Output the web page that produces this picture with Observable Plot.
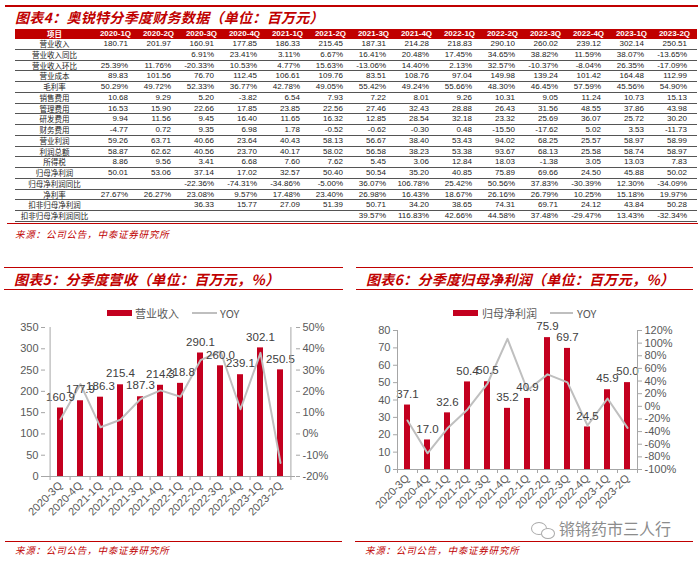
<!DOCTYPE html>
<html><head><meta charset="utf-8">
<script src="https://cdn.jsdelivr.net/npm/d3@7"></script>
<script src="https://cdn.jsdelivr.net/npm/@observablehq/plot@0.6"></script>
<style>
body{margin:0;background:#fff;}
#page{position:relative;width:700px;height:561px;overflow:hidden;font-family:"Noto Sans CJK SC",sans-serif;}
.redline{position:absolute;height:0;border-top:1.5px solid #c00000;}
.title{position:absolute;color:#c00000;font-weight:bold;font-style:italic;font-size:14px;white-space:nowrap;line-height:14px;letter-spacing:0.3px;}
.src{position:absolute;color:#c00000;font-size:9.5px;font-style:italic;white-space:nowrap;line-height:10px;letter-spacing:0.8px;}
.cell{position:absolute;white-space:nowrap;font-size:8px;line-height:10px;}
.num{font-family:"Liberation Sans Narrow","Liberation Sans",Arial,sans-serif;text-align:right;color:#222;}
.lab{font-family:"Noto Sans CJK SC",sans-serif;text-align:center;color:#222;font-size:7.5px;}
.hdr{color:#fff;font-weight:bold;text-align:center;font-family:"Liberation Sans",Arial,sans-serif;}
.rowline{position:absolute;left:15px;width:682px;height:0;border-top:1px solid #555;}
.leg{position:absolute;font-size:11px;color:#595959;line-height:12px;white-space:nowrap;font-family:"Noto Sans CJK SC",sans-serif;}
.chart{position:absolute;}
</style></head>
<body><div id="page"></div>
<script>
// ---------- table data ----------
const columns = ["2020-1Q","2020-2Q","2020-3Q","2020-4Q","2021-1Q","2021-2Q","2021-3Q","2021-4Q","2022-1Q","2022-2Q","2022-3Q","2022-4Q","2023-1Q","2023-2Q"];
const revenueQ = [180.71,201.97,160.91,177.85,186.33,215.45,187.31,214.28,218.83,290.10,260.02,239.12,302.14,250.51];
const revenueYoyQ = [null,null,6.91,23.41,3.11,6.67,16.41,20.48,17.45,34.65,38.82,11.59,38.07,-13.65];
const revenueQoqQ = [25.39,11.76,-20.33,10.53,4.77,15.63,-13.06,14.40,2.13,32.57,-10.37,-8.04,26.35,-17.09];
const costQ = [89.83,101.56,76.70,112.45,106.61,109.76,83.51,108.76,97.04,149.98,139.24,101.42,164.48,112.99];
const grossMarginQ = [50.29,49.72,52.33,36.77,42.78,49.05,55.42,49.24,55.66,48.30,46.45,57.59,45.56,54.90];
const sellingQ = [10.68,9.29,5.20,-3.82,6.54,7.93,7.22,8.01,9.26,10.31,9.05,11.24,10.73,15.13];
const adminQ = [16.53,15.90,22.66,17.85,23.85,22.56,27.46,32.43,28.88,26.43,31.56,48.55,37.86,43.98];
const rdQ = [9.94,11.56,9.45,16.40,11.65,16.32,12.85,28.54,32.18,23.32,25.69,36.07,25.72,30.20];
const financeQ = [-4.77,0.72,9.35,6.98,1.78,-0.52,-0.62,-0.30,0.48,-15.50,-17.62,5.02,3.53,-11.73];
const opProfitQ = [59.26,63.71,40.66,23.64,40.43,58.13,56.67,38.40,53.43,94.02,68.25,25.57,58.97,58.99];
const totalProfitQ = [58.87,62.62,40.56,23.70,40.17,58.02,56.58,38.23,53.38,93.67,68.13,25.58,58.74,58.97];
const taxQ = [8.86,9.56,3.41,6.68,7.60,7.62,5.45,3.06,12.84,18.03,-1.38,3.05,13.03,7.83];
const netProfitQ = [50.01,53.06,37.14,17.02,32.57,50.40,50.54,35.20,40.85,75.89,69.66,24.50,45.88,50.02];
const netProfitYoyQ = [null,null,-22.36,-74.31,-34.86,-5.00,36.07,106.78,25.42,50.56,37.83,-30.39,12.30,-34.09];
const netMarginQ = [27.67,26.27,23.08,9.57,17.48,23.40,26.98,16.43,18.67,26.16,26.79,10.25,15.18,19.97];
const deductedQ = [null,null,36.33,15.77,27.09,51.39,50.71,34.20,38.65,74.31,69.71,24.12,43.84,50.28];
const deductedYoyQ = [null,null,null,null,null,null,39.57,116.83,42.66,44.58,37.48,-29.47,13.43,-32.34];

const tableRows = [
  ["营业收入", revenueQ, false], ["营业收入同比", revenueYoyQ, true], ["营业收入环比", revenueQoqQ, true],
  ["营业成本", costQ, false], ["毛利率", grossMarginQ, true], ["销售费用", sellingQ, false],
  ["管理费用", adminQ, false], ["研发费用", rdQ, false], ["财务费用", financeQ, false],
  ["营业利润", opProfitQ, false], ["利润总额", totalProfitQ, false], ["所得税", taxQ, false],
  ["归母净利润", netProfitQ, false], ["归母净利润同比", netProfitYoyQ, true], ["净利率", netMarginQ, true],
  ["扣非归母净利润", deductedQ, false], ["扣非归母净利润同比", deductedYoyQ, true]
];

// ---------- chart data ----------
const chartQuarters = ["2020-3Q","2020-4Q","2021-1Q","2021-2Q","2021-3Q","2021-4Q","2022-1Q","2022-2Q","2022-3Q","2022-4Q","2023-1Q","2023-2Q"];
const revenue = [160.9,177.9,186.3,215.4,187.3,214.3,218.8,290.1,260.0,239.1,302.1,250.5];
const revenueYoy = [6.91,23.41,3.11,6.67,16.41,20.48,17.45,34.65,38.82,11.59,38.07,-13.65];
const netProfit = [37.1,17.0,32.6,50.4,50.5,35.2,40.9,75.9,69.7,24.5,45.9,50.0];
const netProfitYoy = [-22.36,-74.31,-34.86,-5.00,36.07,106.78,25.42,50.56,37.83,-30.39,12.30,-34.09];

const RED = "#c00000";
const BAR = "#c3001f";
const page = document.getElementById("page");
function add(html){ page.insertAdjacentHTML("beforeend", html); }

// ---------- section 4: table ----------
add(`<div class="redline" style="left:5px;top:5px;width:693px;border-top-width:2px"></div>`);
add(`<div class="title" style="left:15px;top:10px">图表4：奥锐特分季度财务数据（单位：百万元）</div>`);
const labW = 79, colW = 43, tLeft = 15, hdrTop = 29, rowH = 10.75, rowTop = 39;
add(`<div style="position:absolute;left:${tLeft}px;top:${hdrTop}px;width:682px;height:10px;background:${RED}"></div>`);
add(`<div class="cell hdr" style="left:${tLeft}px;top:${hdrTop}px;width:${labW}px;font-family:'Noto Sans CJK SC';font-size:7.5px">项目</div>`);
columns.forEach((c,j)=>add(`<div class="cell hdr" style="left:${tLeft+labW+j*colW}px;top:${hdrTop}px;width:${colW}px">${c}</div>`));
tableRows.forEach(([label, vals, pct], i)=>{
  const top = rowTop + i*rowH;
  add(`<div class="cell lab" style="left:${tLeft}px;top:${top}px;width:${labW}px">${label}</div>`);
  vals.forEach((v,j)=>{
    if (v === null) return;
    const s = pct ? v.toFixed(2)+"%" : v.toFixed(2);
    add(`<div class="cell num" style="left:${tLeft+labW+j*colW}px;top:${top}px;width:${colW-9}px">${s}</div>`);
  });
  add(`<div class="rowline" style="top:${top+rowH-1}px"></div>`);
});
add(`<div class="redline" style="left:7px;top:223px;width:691px;border-top-width:1px"></div>`);
add(`<div class="src" style="left:15px;top:229px">来源：公司公告，中泰证券研究所</div>`);

// ---------- charts ----------
function dualChart({quarters, values, yoys, yMax, yStep, rMin, rMax, rStep, width, height, mt, mb, ml, mr, tickLen}) {
  const n = quarters.length;
  const step = (width - ml - mr) / n;
  const toLeft = t => (t - rMin) / (rMax - rMin) * yMax;
  const fromLeft = v => Math.round(v / yMax * (rMax - rMin) + rMin);
  const data = quarters.map((q,i)=>({q, v: values[i], yoy: yoys[i]}));
  const grey = "#a6a6a6";
  return Plot.plot({
    width, height, marginTop: mt, marginBottom: mb, marginLeft: ml, marginRight: mr,
    style: {fontFamily: "'Liberation Sans', Arial, sans-serif", fontSize: "11px", color: "#595959", background: "transparent", overflow: "visible"},
    x: {domain: quarters, paddingInner: 0.68, paddingOuter: 0.34, axis: null, label: null},
    y: {domain: [0, yMax], axis: null, label: null},
    marks: [
      Plot.barY(data, {x: "q", y: "v", fill: BAR}),
      Plot.line(data, {x: "q", y: d => toLeft(d.yoy), stroke: "#bfbfbf", strokeWidth: 2}),
      Plot.text(data, {x: "q", y: "v", text: d => d.v.toFixed(1), dy: -11, fill: "#404040", fontSize: 11.5}),
      Plot.ruleY([0], {stroke: grey}),
      Plot.ruleX([quarters[0]], {y1: 0, y2: yMax, dx: -step/2, stroke: grey}),
      Plot.ruleX([quarters[n-1]], {y1: 0, y2: yMax, dx: step/2, stroke: grey}),
      Plot.ruleX(quarters, {y1: 0, y2: -tickLen, dx: -step/2, stroke: grey}),
      Plot.ruleX([quarters[n-1]], {y1: 0, y2: -tickLen, dx: step/2, stroke: grey}),
      Plot.axisY({anchor: "left", ticks: d3.range(0, yMax + 0.001, yStep), tickSize: 4, tickPadding: 3, stroke: grey, fill: "#595959", label: null}),
      Plot.axisY({anchor: "right", ticks: d3.range(rMin, rMax + 0.001, rStep).map(toLeft), tickFormat: v => fromLeft(v) + "%", tickSize: 4, tickPadding: 3, stroke: grey, fill: "#595959", label: null}),
      Plot.axisX({anchor: "bottom", tickRotate: -45, tickSize: 0, tickPadding: 7, fill: "#595959", label: null})
    ]
  });
}

// chart 5
add(`<div class="redline" style="left:4px;top:267px;width:339px"></div>`);
add(`<div class="title" style="left:14px;top:272px">图表5：分季度营收（单位：百万元，%）</div>`);
add(`<div class="redline" style="left:4px;top:289px;width:339px;border-top-width:1px"></div>`);
add(`<div style="position:absolute;left:107px;top:310px;width:25px;height:6px;background:${BAR}"></div>`);
add(`<div class="leg" style="left:135px;top:307px">营业收入</div>`);
add(`<div style="position:absolute;left:192px;top:312px;width:25px;height:2px;background:#bfbfbf"></div>`);
add(`<div class="leg" style="left:220px;top:307px">YOY</div>`);
const c5 = dualChart({quarters: chartQuarters, values: revenue, yoys: revenueYoy, yMax: 350, yStep: 50, rMin: -20, rMax: 50, rStep: 10,
  width: 345, height: 240, mt: 27, mb: 64, ml: 45, mr: 50, tickLen: 9.4});
c5.classList.add("chart"); c5.style.left = "0px"; c5.style.top = "300px";
page.appendChild(c5);
add(`<div class="redline" style="left:5px;top:541px;width:337px;border-top-width:1px"></div>`);
add(`<div class="src" style="left:15px;top:545px">来源：公司公告，中泰证券研究所</div>`);

// chart 6
add(`<div class="redline" style="left:356px;top:267px;width:337px"></div>`);
add(`<div class="title" style="left:366px;top:272px">图表6：分季度归母净利润（单位：百万元，%）</div>`);
add(`<div class="redline" style="left:356px;top:289px;width:337px;border-top-width:1px"></div>`);
add(`<div style="position:absolute;left:453px;top:310px;width:25px;height:6px;background:${BAR}"></div>`);
add(`<div class="leg" style="left:482px;top:307px">归母净利润</div>`);
add(`<div style="position:absolute;left:550px;top:312px;width:23px;height:2px;background:#bfbfbf"></div>`);
add(`<div class="leg" style="left:577px;top:307px">YOY</div>`);
const c6 = dualChart({quarters: chartQuarters, values: netProfit, yoys: netProfitYoy, yMax: 80, yStep: 10, rMin: -100, rMax: 120, rStep: 20,
  width: 350, height: 240, mt: 30, mb: 71, ml: 47, mr: 63, tickLen: 2.3});
c6.classList.add("chart"); c6.style.left = "350px"; c6.style.top = "300px";
page.appendChild(c6);
add(`<div style="position:absolute;left:531px;top:522px;width:14px;height:11px;border:1.5px solid #aaa;border-radius:50%"></div>`);
add(`<div style="position:absolute;left:541px;top:528px;width:12px;height:9px;border:1.5px solid #aaa;border-radius:50%;background:#fff"></div>`);
add(`<div style="position:absolute;left:559px;top:519px;font-size:16px;line-height:18px;color:#8c8c8c;white-space:nowrap;font-family:'Noto Sans CJK SC'">锵锵药市三人行</div>`);
add(`<div class="redline" style="left:355px;top:541px;width:338px;border-top-width:1px"></div>`);
add(`<div class="src" style="left:365px;top:545px">来源：公司公告，中泰证券研究所</div>`);
</script></body></html>
